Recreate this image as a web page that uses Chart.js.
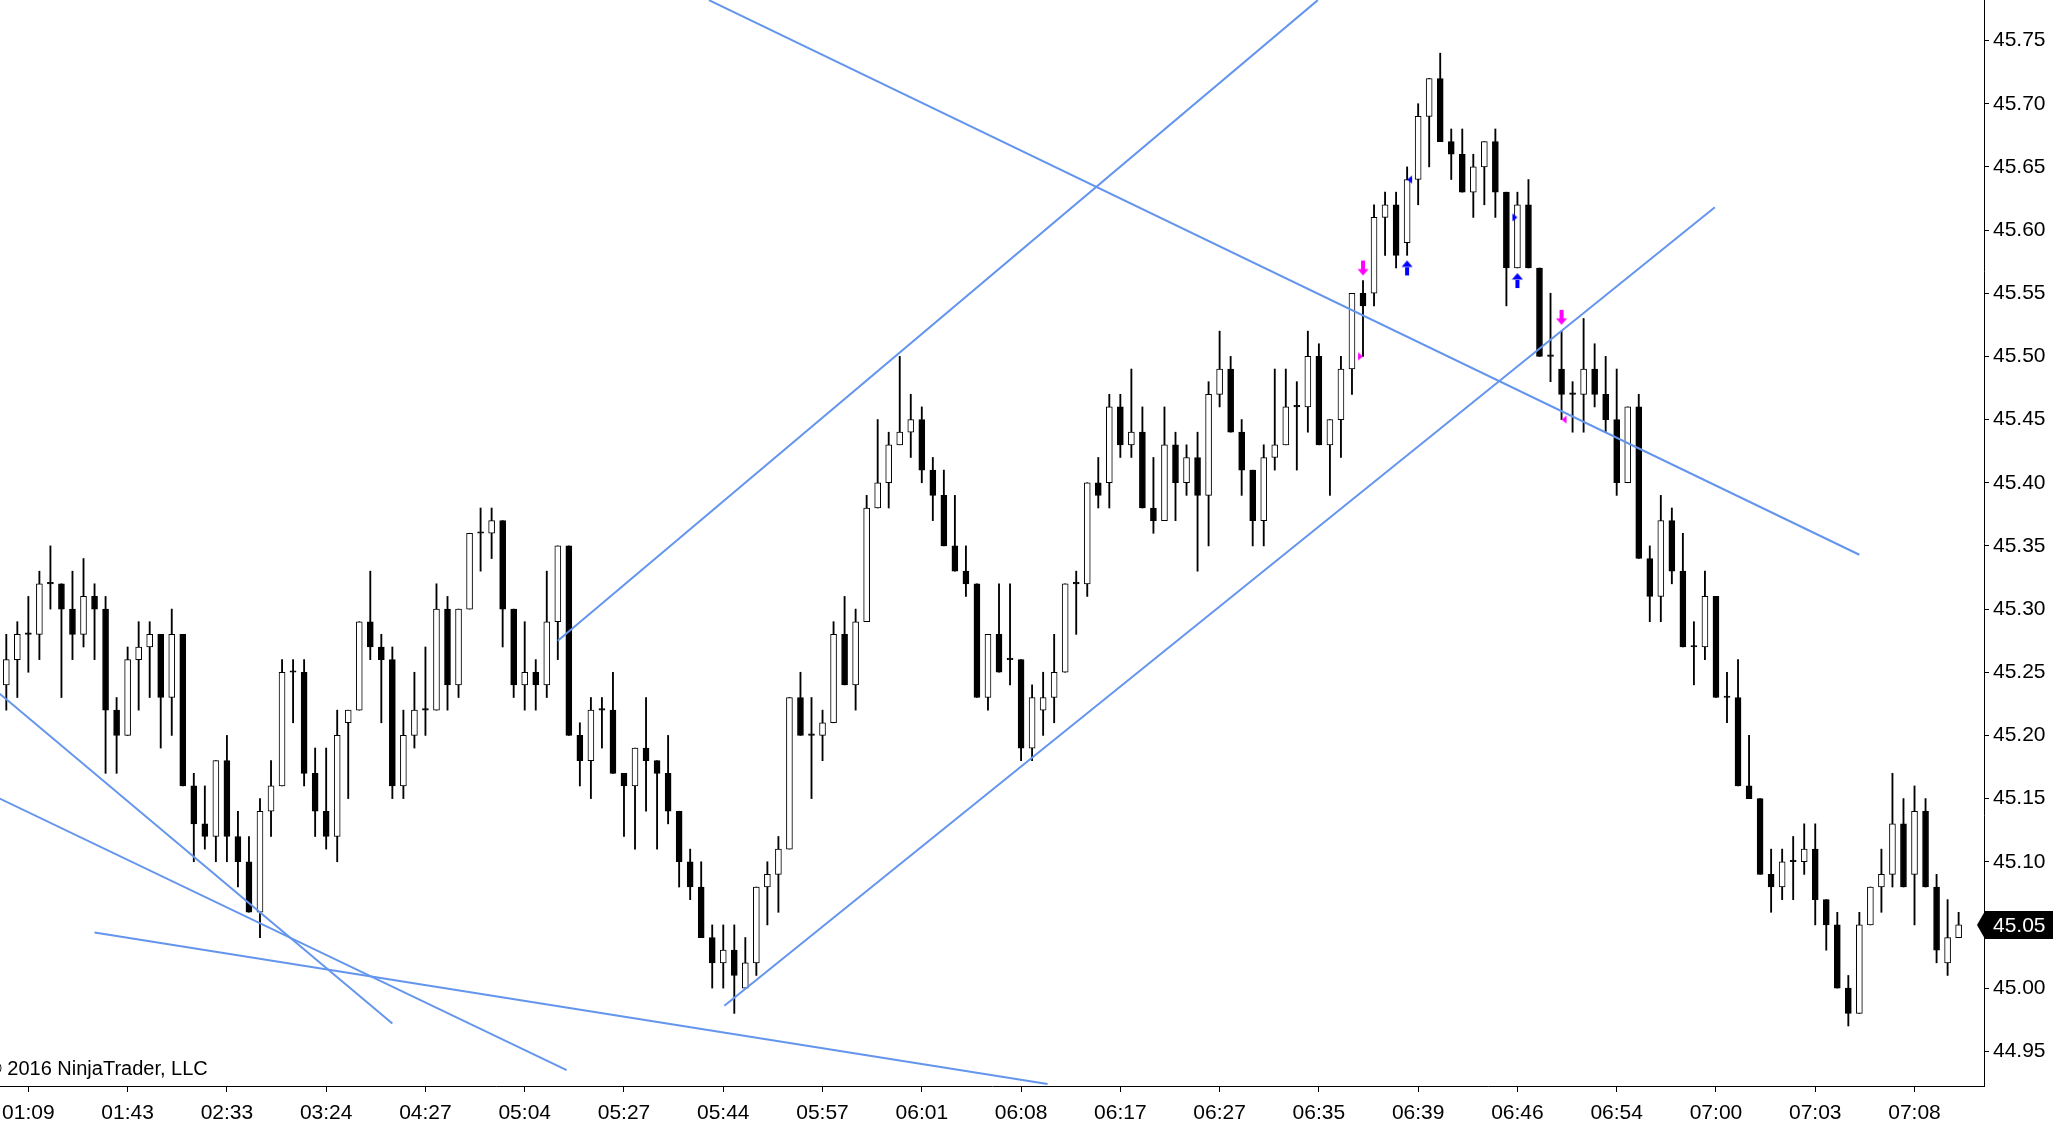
<!DOCTYPE html>
<html>
<head>
<meta charset="utf-8">
<style>
  html, body { margin: 0; padding: 0; background: #fff; overflow: hidden; }
  canvas { display: block; }
</style>
<script src="https://cdn.jsdelivr.net/npm/chart.js@4.4.0/dist/chart.umd.min.js"></script>
</head>
<body>
<canvas id="chartCanvas" width="2053" height="1128"></canvas>
<script>
// OHLC per bar (bar index = position on the x axis)
const opens = [
  45.24, 45.26, 45.28, 45.28, 45.32, 45.32, 45.30, 45.28, 45.31, 45.30,
  45.22, 45.20, 45.26, 45.27, 45.28, 45.23, 45.28, 45.16, 45.13, 45.12,
  45.18, 45.12, 45.10, 45.06, 45.14, 45.16, 45.25, 45.25, 45.17, 45.14,
  45.12, 45.21, 45.22, 45.29, 45.27, 45.26, 45.16, 45.20, 45.22, 45.22,
  45.30, 45.24, 45.30, 45.36, 45.36, 45.37, 45.30, 45.24, 45.25, 45.24,
  45.29, 45.35, 45.20, 45.18, 45.22, 45.22, 45.17, 45.16, 45.19, 45.18,
  45.17, 45.14, 45.10, 45.08, 45.04, 45.02, 45.03, 45.00, 45.02, 45.08,
  45.09, 45.11, 45.23, 45.20, 45.20, 45.21, 45.28, 45.24, 45.29, 45.38,
  45.40, 45.43, 45.44, 45.45, 45.41, 45.39, 45.35, 45.33, 45.32, 45.23,
  45.28, 45.26, 45.26, 45.19, 45.22, 45.23, 45.25, 45.32, 45.32, 45.40,
  45.40, 45.46, 45.43, 45.44, 45.38, 45.37, 45.43, 45.40, 45.42, 45.39,
  45.47, 45.49, 45.44, 45.41, 45.37, 45.42, 45.43, 45.46, 45.46, 45.50,
  45.43, 45.45, 45.49, 45.55, 45.55, 45.61, 45.62, 45.59, 45.64, 45.69,
  45.72, 45.67, 45.66, 45.63, 45.65, 45.67, 45.63, 45.57, 45.62, 45.57,
  45.50, 45.49, 45.47, 45.47, 45.49, 45.47, 45.45, 45.40, 45.46, 45.34,
  45.31, 45.37, 45.33, 45.27, 45.27, 45.31, 45.23, 45.23, 45.16, 45.15,
  45.09, 45.08, 45.10, 45.10, 45.11, 45.07, 45.05, 45.00, 44.98, 45.05,
  45.08, 45.09, 45.13, 45.09, 45.14, 45.08, 45.02, 45.04
];
const highs = [
  45.28, 45.29, 45.31, 45.33, 45.35, 45.32, 45.33, 45.34, 45.32, 45.31,
  45.23, 45.27, 45.29, 45.29, 45.28, 45.30, 45.28, 45.17, 45.16, 45.18,
  45.20, 45.14, 45.12, 45.15, 45.18, 45.26, 45.26, 45.26, 45.19, 45.19,
  45.22, 45.22, 45.29, 45.33, 45.28, 45.27, 45.22, 45.25, 45.27, 45.32,
  45.31, 45.30, 45.36, 45.38, 45.38, 45.37, 45.30, 45.29, 45.26, 45.33,
  45.35, 45.35, 45.21, 45.23, 45.23, 45.25, 45.17, 45.19, 45.23, 45.18,
  45.20, 45.14, 45.11, 45.10, 45.05, 45.05, 45.05, 45.04, 45.08, 45.10,
  45.12, 45.23, 45.25, 45.23, 45.22, 45.29, 45.31, 45.30, 45.39, 45.45,
  45.44, 45.50, 45.47, 45.46, 45.42, 45.41, 45.39, 45.35, 45.32, 45.28,
  45.32, 45.32, 45.26, 45.24, 45.25, 45.28, 45.32, 45.33, 45.40, 45.42,
  45.47, 45.47, 45.49, 45.46, 45.42, 45.46, 45.44, 45.43, 45.44, 45.48,
  45.52, 45.50, 45.45, 45.41, 45.43, 45.49, 45.49, 45.48, 45.52, 45.51,
  45.45, 45.50, 45.55, 45.56, 45.62, 45.63, 45.63, 45.65, 45.70, 45.72,
  45.74, 45.68, 45.68, 45.66, 45.67, 45.68, 45.63, 45.63, 45.64, 45.57,
  45.55, 45.52, 45.48, 45.53, 45.51, 45.50, 45.49, 45.46, 45.47, 45.35,
  45.39, 45.38, 45.36, 45.29, 45.33, 45.31, 45.25, 45.26, 45.20, 45.15,
  45.11, 45.11, 45.12, 45.13, 45.13, 45.07, 45.06, 45.01, 45.06, 45.08,
  45.11, 45.17, 45.15, 45.16, 45.15, 45.09, 45.07, 45.06
];
const lows = [
  45.22, 45.23, 45.25, 45.26, 45.30, 45.23, 45.26, 45.27, 45.26, 45.17,
  45.17, 45.20, 45.22, 45.23, 45.19, 45.20, 45.16, 45.10, 45.11, 45.10,
  45.10, 45.08, 45.06, 45.04, 45.12, 45.16, 45.21, 45.16, 45.12, 45.11,
  45.10, 45.15, 45.22, 45.26, 45.21, 45.15, 45.15, 45.19, 45.20, 45.22,
  45.22, 45.23, 45.30, 45.33, 45.34, 45.27, 45.23, 45.22, 45.22, 45.23,
  45.26, 45.20, 45.16, 45.15, 45.19, 45.17, 45.12, 45.11, 45.14, 45.11,
  45.13, 45.08, 45.07, 45.04, 45.00, 45.00, 44.98, 45.00, 45.01, 45.05,
  45.06, 45.11, 45.20, 45.15, 45.18, 45.21, 45.24, 45.22, 45.29, 45.38,
  45.38, 45.43, 45.42, 45.40, 45.37, 45.35, 45.33, 45.31, 45.23, 45.22,
  45.25, 45.24, 45.18, 45.18, 45.20, 45.21, 45.25, 45.28, 45.31, 45.38,
  45.38, 45.42, 45.42, 45.38, 45.36, 45.37, 45.37, 45.39, 45.33, 45.35,
  45.46, 45.44, 45.39, 45.35, 45.35, 45.41, 45.43, 45.41, 45.44, 45.43,
  45.39, 45.42, 45.47, 45.50, 45.54, 45.58, 45.57, 45.58, 45.62, 45.65,
  45.67, 45.64, 45.63, 45.61, 45.62, 45.61, 45.54, 45.57, 45.57, 45.50,
  45.48, 45.45, 45.44, 45.44, 45.46, 45.44, 45.39, 45.40, 45.34, 45.29,
  45.29, 45.32, 45.27, 45.24, 45.26, 45.23, 45.21, 45.16, 45.15, 45.09,
  45.06, 45.07, 45.07, 45.09, 45.05, 45.03, 45.00, 44.97, 44.98, 45.05,
  45.06, 45.08, 45.08, 45.05, 45.08, 45.02, 45.01, 45.04
];
const closes = [
  45.26, 45.28, 45.28, 45.32, 45.32, 45.30, 45.28, 45.31, 45.30, 45.22,
  45.20, 45.26, 45.27, 45.28, 45.23, 45.28, 45.16, 45.13, 45.12, 45.18,
  45.12, 45.10, 45.06, 45.14, 45.16, 45.25, 45.25, 45.17, 45.14, 45.12,
  45.20, 45.22, 45.29, 45.27, 45.26, 45.16, 45.20, 45.22, 45.22, 45.30,
  45.24, 45.30, 45.36, 45.36, 45.37, 45.30, 45.24, 45.25, 45.24, 45.29,
  45.35, 45.20, 45.18, 45.22, 45.22, 45.17, 45.16, 45.19, 45.18, 45.17,
  45.14, 45.10, 45.08, 45.04, 45.02, 45.03, 45.01, 45.02, 45.08, 45.09,
  45.11, 45.23, 45.20, 45.20, 45.21, 45.28, 45.24, 45.29, 45.38, 45.40,
  45.43, 45.44, 45.45, 45.41, 45.39, 45.35, 45.33, 45.32, 45.23, 45.28,
  45.25, 45.26, 45.19, 45.23, 45.23, 45.25, 45.32, 45.32, 45.40, 45.39,
  45.46, 45.43, 45.44, 45.38, 45.37, 45.43, 45.40, 45.42, 45.39, 45.47,
  45.49, 45.44, 45.41, 45.37, 45.42, 45.43, 45.46, 45.46, 45.50, 45.43,
  45.45, 45.49, 45.55, 45.54, 45.61, 45.62, 45.58, 45.64, 45.69, 45.72,
  45.67, 45.66, 45.63, 45.65, 45.67, 45.63, 45.57, 45.62, 45.57, 45.50,
  45.50, 45.47, 45.47, 45.49, 45.47, 45.45, 45.40, 45.46, 45.34, 45.31,
  45.37, 45.33, 45.27, 45.27, 45.31, 45.23, 45.23, 45.16, 45.15, 45.09,
  45.08, 45.10, 45.10, 45.11, 45.07, 45.05, 45.00, 44.98, 45.05, 45.08,
  45.09, 45.13, 45.08, 45.14, 45.08, 45.03, 45.04, 45.05
];

// time axis labels and the bars they sit on
const timeLabels = ['01:09', '01:43', '02:33', '03:24', '04:27', '05:04', '05:27', '05:44', '05:57', '06:01',
                    '06:08', '06:17', '06:27', '06:35', '06:39', '06:46', '06:54', '07:00', '07:03', '07:08'];
const tickBars = [2, 11, 20, 29, 38, 47, 56, 65, 74, 83, 92, 101, 110, 119, 128, 137, 146, 155, 164, 173];

// price axis labels
const priceTicks = [44.95, 45.00, 45.05, 45.10, 45.15, 45.20, 45.25, 45.30, 45.35,
                    45.40, 45.45, 45.50, 45.55, 45.60, 45.65, 45.70, 45.75];

// drawn trend lines (bar, price) -> (bar, price)
const trendFromBar   = [50.0, 65.1, 63.7, -0.6, -0.6, 8.0];
const trendFromPrice = [45.275, 44.986, 45.782, 45.233, 45.150, 45.044];
const trendToBar     = [118.9, 154.9, 168.0, 35.0, 50.8, 94.4];
const trendToPrice   = [45.782, 45.618, 45.343, 44.972, 44.935, 44.924];

// strategy signal markers
const signalBars   = [123, 141, 127, 137, 123, 141, 127, 137];
const signalPrices = [45.564, 45.525, 45.576, 45.566, 45.50, 45.45, 45.64, 45.61];
const signalKinds  = ['sellArrow', 'sellArrow', 'buyArrow', 'buyArrow', 'sellEntry', 'sellExit', 'buyExit', 'buyEntry'];

const FONT = "'Liberation Sans', Arial, sans-serif";
const MAGENTA = '#ff00ff';
const BLUE = '#0000ff';
const LINE_BLUE = '#6495ed';

// little canvases used as point styles; the tip of each mark sits at the canvas centre
function arrowCanvas(color, down) {
  const c = document.createElement('canvas');
  c.width = 12; c.height = 32;
  const g = c.getContext('2d');
  g.fillStyle = color;
  g.beginPath();
  if (down) {
    g.rect(4, 1, 4, 9);
    g.moveTo(0.5, 9.5); g.lineTo(11.5, 9.5); g.lineTo(6, 16);
  } else {
    g.rect(4, 22, 4, 9);
    g.moveTo(0.5, 22.5); g.lineTo(11.5, 22.5); g.lineTo(6, 16);
  }
  g.fill();
  return c;
}
function triCanvas(color, pointRight) {
  const c = document.createElement('canvas');
  c.width = 14; c.height = 10;
  const g = c.getContext('2d');
  g.fillStyle = color;
  g.beginPath();
  if (pointRight) {
    g.moveTo(2, 1); g.lineTo(2, 9); g.lineTo(7, 5);
  } else {
    g.moveTo(12, 1); g.lineTo(12, 9); g.lineTo(7, 5);
  }
  g.fill();
  return c;
}
const markStyles = {
  sellArrow: arrowCanvas(MAGENTA, true),
  buyArrow: arrowCanvas(BLUE, false),
  sellEntry: triCanvas(MAGENTA, true),
  sellExit: triCanvas(MAGENTA, false),
  buyEntry: triCanvas(BLUE, true),
  buyExit: triCanvas(BLUE, false)
};

const wickData = lows.map((lo, i) => ({ x: i, y: [lo, highs[i]] }));
const bodyData = opens.map((o, i) => ({ x: i, y: [o, closes[i]] }));
const bodyFill = opens.map((o, i) => closes[i] > o ? '#ffffff' : '#000000');

const trendSets = trendFromBar.map((b, k) => ({
  type: 'line',
  data: [{ x: b, y: trendFromPrice[k] }, { x: trendToBar[k], y: trendToPrice[k] }],
  borderColor: LINE_BLUE,
  borderWidth: 2,
  pointRadius: 0,
  tension: 0,
  clip: 0,
  order: 1
}));

const lastPrice = closes[closes.length - 1];

// copyright note and the last-price flag on the price axis
const overlayPlugin = {
  id: 'overlay',
  afterDraw(chart) {
    const ctx = chart.ctx;
    const area = chart.chartArea;
    ctx.save();
    ctx.fillStyle = '#000';
    ctx.font = '20px ' + FONT;
    ctx.textBaseline = 'alphabetic';
    ctx.textAlign = 'left';
    ctx.fillText('\u00a9 2016 NinjaTrader, LLC', -13, 1075);

    const y = chart.scales.y.getPixelForValue(lastPrice);
    const x0 = area.right;
    ctx.beginPath();
    ctx.moveTo(x0 - 7, y);
    ctx.lineTo(x0 + 1, y - 14);
    ctx.lineTo(chart.width, y - 14);
    ctx.lineTo(chart.width, y + 14);
    ctx.lineTo(x0 + 1, y + 14);
    ctx.closePath();
    ctx.fill();
    ctx.fillStyle = '#fff';
    ctx.font = '21px ' + FONT;
    ctx.textBaseline = 'middle';
    ctx.fillText(lastPrice.toFixed(2), x0 + 9, y + 1);
    ctx.restore();
  }
};

Chart.defaults.font.family = FONT;
Chart.defaults.font.size = 21;
Chart.defaults.color = '#000';

const ctx = document.getElementById('chartCanvas').getContext('2d');
const chart = new Chart(ctx, {
  type: 'bar',
  data: {
    datasets: [
      {
        type: 'line',
        data: signalBars.map((b, k) => ({ x: b, y: signalPrices[k] })),
        showLine: false,
        pointStyle: signalKinds.map(k => markStyles[k]),
        pointRadius: 6,
        order: 0
      },
      ...trendSets,
      {
        data: bodyData,
        backgroundColor: bodyFill,
        borderColor: '#000',
        borderWidth: 1,
        borderSkipped: false,
        barThickness: 6,
        minBarLength: 1.5,
        grouped: false,
        order: 2
      },
      {
        data: wickData,
        backgroundColor: '#000',
        borderWidth: 0,
        barThickness: 1.2,
        grouped: false,
        order: 3
      }
    ]
  },
  options: {
    responsive: false,
    animation: false,
    events: [],
    layout: { padding: 0, autoPadding: false },
    plugins: {
      legend: { display: false },
      tooltip: { enabled: false }
    },
    scales: {
      x: {
        type: 'linear',
        offset: false,
        min: -0.571,
        max: 179.3,
        grid: { offset: false, drawOnChartArea: false, drawTicks: true, tickLength: 6, color: '#000' },
        border: { display: true, color: '#000', width: 1 },
        ticks: {
          autoSkip: false,
          maxRotation: 0,
          minRotation: 0,
          padding: 9,
          callback: (v) => {
            const k = tickBars.indexOf(v);
            return k >= 0 ? timeLabels[k] : '';
          }
        },
        afterBuildTicks: (scale) => { scale.ticks = tickBars.map(v => ({ value: v })); },
        afterFit: (scale) => {
          scale.height = 42;
          scale.paddingLeft = 0;
          scale.paddingRight = 0;
        }
      },
      y: {
        type: 'linear',
        position: 'right',
        beginAtZero: false,
        min: 44.9225,
        max: 45.7821,
        grid: { drawOnChartArea: false, drawTicks: true, tickLength: 5, color: '#000' },
        border: { display: true, color: '#000', width: 1 },
        ticks: {
          autoSkip: false,
          padding: 4,
          callback: (v) => Number(v).toFixed(2)
        },
        afterBuildTicks: (scale) => { scale.ticks = priceTicks.map(v => ({ value: v })); },
        afterFit: (scale) => {
          scale.width = 69;
          scale.paddingTop = 0;
          scale.paddingBottom = 0;
        }
      }
    }
  },
  plugins: [overlayPlugin]
});
</script>
</body>
</html>
